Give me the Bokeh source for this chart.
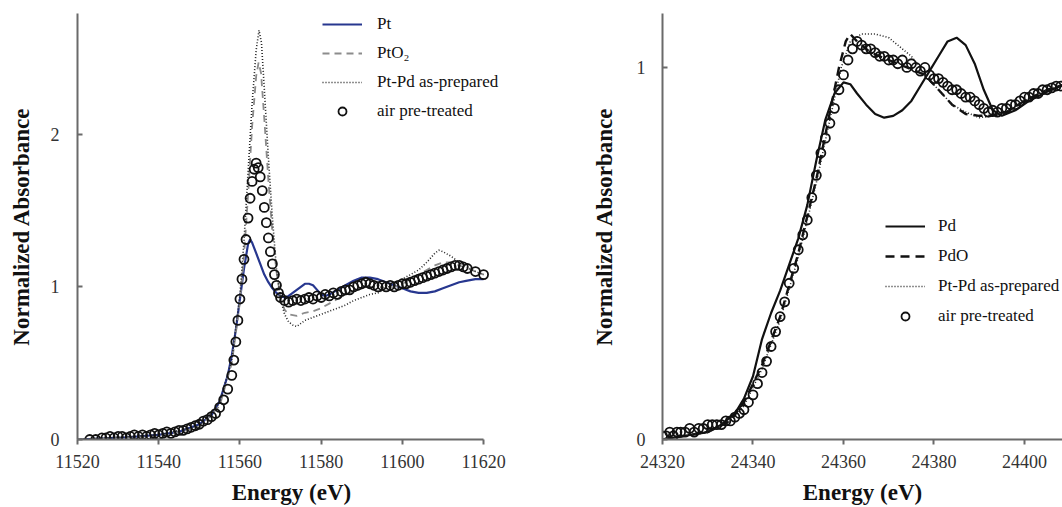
from bokeh.plotting import figure
from bokeh.layouts import row
from bokeh.models import Range1d, FixedTicker, Legend, LegendItem
from bokeh.embed import file_html
from bokeh.resources import INLINE

# ---------------- Pt L3-edge (left) ----------------
pt_x_ticks = [11520, 11540, 11560, 11580, 11600, 11620]
pt_y_ticks = [0, 1, 2]

pt_E = [11520, 11530, 11540, 11545, 11550, 11553, 11555, 11557, 11558, 11559, 11560, 11561,
        11562, 11562.5, 11563, 11564, 11565, 11566, 11567, 11568, 11569, 11570, 11571, 11572,
        11573, 11574, 11575, 11576, 11577, 11578, 11579, 11580, 11581, 11582, 11584, 11586,
        11588, 11590, 11592, 11594, 11596, 11598, 11600, 11602, 11604, 11606, 11608, 11610,
        11612, 11614, 11616, 11618, 11620]
pt_A = [0.00, 0.01, 0.03, 0.05, 0.10, 0.16, 0.25, 0.42, 0.55, 0.72, 0.92, 1.12,
        1.28, 1.31, 1.29, 1.22, 1.15, 1.08, 1.03, 0.99, 0.96, 0.94, 0.93, 0.94,
        0.96, 0.98, 1.00, 1.02, 1.02, 1.01, 0.98, 0.95, 0.94, 0.95, 0.98, 1.01,
        1.04, 1.06, 1.06, 1.05, 1.03, 1.01, 0.99, 0.97, 0.96, 0.96, 0.97, 0.99,
        1.01, 1.03, 1.04, 1.05, 1.05]

pto2_E = [11520, 11540, 11550, 11555, 11558, 11560, 11561, 11562, 11563, 11564, 11564.6,
          11565.2, 11566, 11567, 11568, 11569, 11570, 11571, 11572, 11574, 11576, 11578,
          11580, 11582, 11584, 11586, 11588, 11590, 11592, 11594, 11596, 11598, 11600,
          11602, 11604, 11606, 11608, 11610, 11612, 11614, 11616, 11618, 11620]
pto2_A = [0.00, 0.02, 0.08, 0.22, 0.50, 0.90, 1.20, 1.60, 2.05, 2.38, 2.47,
          2.40, 2.10, 1.70, 1.35, 1.10, 0.93, 0.85, 0.82, 0.81, 0.83, 0.84,
          0.86, 0.89, 0.92, 0.95, 0.97, 0.99, 1.00, 1.00, 0.99, 1.00, 1.02,
          1.05, 1.08, 1.11, 1.14, 1.16, 1.16, 1.14, 1.12, 1.10, 1.08]

ptpd_E = [11520, 11540, 11550, 11555, 11558, 11560, 11561, 11562, 11563, 11564, 11564.7,
          11565.3, 11566, 11567, 11568, 11569, 11570, 11571, 11572, 11573, 11574, 11575,
          11576, 11578, 11580, 11582, 11584, 11586, 11588, 11590, 11592, 11594, 11596,
          11598, 11600, 11602, 11604, 11606, 11608, 11609, 11610, 11612, 11614, 11616,
          11618, 11620]
ptpd_A = [0.00, 0.03, 0.09, 0.24, 0.52, 0.95, 1.30, 1.75, 2.20, 2.55, 2.68,
          2.60, 2.30, 1.85, 1.45, 1.12, 0.92, 0.82, 0.77, 0.75, 0.74, 0.76,
          0.78, 0.80, 0.82, 0.84, 0.86, 0.88, 0.91, 0.93, 0.95, 0.96, 0.99,
          1.02, 1.05, 1.08, 1.11, 1.16, 1.22, 1.24, 1.23, 1.20, 1.16, 1.13,
          1.10, 1.08]

air_pt_E = [11523, 11524.5, 11526, 11527, 11528, 11529, 11530, 11531, 11532, 11533, 11534,
            11535, 11536, 11537, 11538, 11539, 11540, 11541, 11542, 11543, 11544, 11545,
            11546, 11547, 11548, 11549, 11550, 11551, 11552, 11553, 11554, 11555, 11556,
            11557, 11558, 11558.5, 11559, 11559.5, 11560, 11560.5, 11561, 11561.5, 11562,
            11562.5, 11563, 11563.5, 11564, 11564.5, 11565, 11565.5, 11566, 11566.5, 11567,
            11567.5, 11568, 11568.5, 11569, 11569.5, 11570, 11571, 11572, 11573, 11574,
            11575, 11576, 11577, 11578, 11579, 11580, 11581, 11582, 11583, 11584, 11585,
            11586, 11587, 11588, 11589, 11590, 11591, 11592, 11593, 11594, 11595, 11596,
            11597, 11598, 11599, 11600, 11601, 11602, 11603, 11604, 11605, 11606, 11607,
            11608, 11609, 11610, 11611, 11612, 11613, 11614, 11615, 11616, 11618, 11620]
air_pt_A = [0.00, 0.00, 0.01, 0.01, 0.02, 0.01, 0.02, 0.02, 0.01, 0.02, 0.03,
            0.02, 0.03, 0.02, 0.03, 0.04, 0.03, 0.04, 0.05, 0.04, 0.05, 0.06,
            0.06, 0.07, 0.08, 0.09, 0.10, 0.12, 0.13, 0.15, 0.17, 0.21, 0.26,
            0.33, 0.42, 0.52, 0.64, 0.78, 0.92, 1.05, 1.18, 1.31, 1.45,
            1.58, 1.69, 1.77, 1.81, 1.78, 1.72, 1.63, 1.52, 1.42, 1.32,
            1.23, 1.15, 1.08, 1.01, 0.96, 0.93, 0.91, 0.90, 0.91, 0.92,
            0.91, 0.92, 0.93, 0.92, 0.94, 0.93, 0.95, 0.94, 0.96, 0.95, 0.97,
            0.98, 0.98, 1.00, 1.01, 1.02, 1.03, 1.02, 1.01, 1.00, 1.01, 1.00,
            1.01, 1.00, 1.01, 1.02, 1.02, 1.03, 1.04, 1.05, 1.06, 1.07, 1.08,
            1.09, 1.10, 1.11, 1.12, 1.13, 1.14, 1.14, 1.13, 1.12, 1.10, 1.08]

# ---------------- Pd K-edge (right) ----------------
pd_x_ticks = [24320, 24340, 24360, 24380, 24400]
pd_y_ticks = [0, 1]

pd_E = [24320, 24325, 24330, 24333, 24336, 24338, 24340, 24342, 24344, 24346, 24348,
        24350, 24352, 24354, 24356, 24358, 24360, 24361.5, 24363, 24365, 24367, 24369,
        24371, 24373, 24375, 24377, 24379, 24381, 24383, 24385, 24387, 24389, 24391,
        24393, 24395, 24398, 24401, 24405, 24409]
pd_A = [0.00, 0.01, 0.02, 0.04, 0.07, 0.11, 0.17, 0.27, 0.34, 0.40, 0.47,
        0.54, 0.63, 0.75, 0.86, 0.93, 0.96, 0.955, 0.93, 0.90, 0.875, 0.865,
        0.87, 0.885, 0.91, 0.95, 0.99, 1.03, 1.07, 1.08, 1.06, 1.01, 0.94,
        0.885, 0.87, 0.885, 0.91, 0.935, 0.955]

pdo_E = [24320, 24330, 24335, 24338, 24342, 24346, 24350, 24354, 24357, 24359, 24360.5,
         24361.5, 24363, 24366, 24370, 24374, 24378, 24381, 24384, 24387, 24390, 24393,
         24396, 24400, 24405, 24409]
pdo_A = [0.00, 0.02, 0.05, 0.10, 0.20, 0.33, 0.50, 0.70, 0.88, 1.00, 1.07,
         1.09, 1.07, 1.04, 1.02, 1.00, 0.98, 0.94, 0.90, 0.875, 0.87, 0.87,
         0.88, 0.91, 0.94, 0.955]

ptpd2_E = [24320, 24330, 24335, 24338, 24342, 24346, 24350, 24354, 24357, 24359.5, 24361.5,
           24364, 24367, 24370, 24372, 24375, 24378, 24381, 24384, 24387, 24390, 24393,
           24396, 24400, 24405, 24409]
ptpd2_A = [0.00, 0.02, 0.05, 0.09, 0.19, 0.32, 0.49, 0.69, 0.86, 1.00, 1.07,
           1.09, 1.09, 1.08, 1.06, 1.03, 0.98, 0.94, 0.90, 0.88, 0.865, 0.87,
           0.88, 0.91, 0.94, 0.955]

air_pd_E = [24320, 24320.8, 24321.6, 24322.4, 24323.2, 24324, 24325, 24326, 24327, 24328,
            24329, 24330, 24331, 24332, 24333, 24334, 24335, 24336, 24337, 24338, 24339,
            24340, 24341, 24342, 24343, 24344, 24345, 24346, 24347, 24348, 24349, 24350,
            24351, 24352, 24353, 24354, 24355, 24356, 24357, 24358, 24359, 24360, 24361,
            24362, 24363, 24364, 24365, 24366, 24367, 24368, 24369, 24370, 24371, 24372,
            24373, 24374, 24375, 24376, 24377, 24378, 24379, 24380, 24381, 24382, 24383,
            24384, 24385, 24386, 24387, 24388, 24389, 24390, 24391, 24392, 24393, 24394,
            24395, 24396, 24397, 24398, 24399, 24400, 24401, 24402, 24403, 24404, 24405,
            24406, 24407, 24408]
air_pd_A = [0.01, 0.01, 0.02, 0.01, 0.02, 0.02, 0.02, 0.03, 0.02, 0.03,
            0.03, 0.04, 0.04, 0.04, 0.04, 0.05, 0.05, 0.06, 0.07, 0.08, 0.10,
            0.12, 0.15, 0.18, 0.21, 0.25, 0.29, 0.33, 0.37, 0.42, 0.46, 0.51,
            0.55, 0.59, 0.65, 0.71, 0.77, 0.81, 0.85, 0.89, 0.94, 0.98, 1.02,
            1.05, 1.07, 1.06, 1.05, 1.05, 1.04, 1.03, 1.03, 1.02, 1.02, 1.01,
            1.02, 1.00, 1.01, 1.00, 0.99, 1.00, 0.98, 0.97, 0.97, 0.96, 0.95,
            0.94, 0.94, 0.93, 0.92, 0.92, 0.91, 0.90, 0.89, 0.88, 0.885, 0.88,
            0.89, 0.89, 0.90, 0.90, 0.91, 0.92, 0.92, 0.93, 0.93, 0.94, 0.94,
            0.945, 0.95, 0.95]

SERIF = "Liberation Serif"
AXIS_COL = "#6a6a6a"


def style(p, xticks, yticks, xbounds):
    p.outline_line_color = None
    p.xgrid.visible = False
    p.ygrid.visible = False
    p.background_fill_color = "white"
    p.border_fill_color = "white"
    p.xaxis.ticker = FixedTicker(ticks=xticks)
    p.yaxis.ticker = FixedTicker(ticks=yticks)
    if xbounds is not None:
        p.xaxis.bounds = xbounds
    for ax in (p.xaxis[0], p.yaxis[0]):
        ax.axis_line_color = AXIS_COL
        ax.axis_line_width = 2
        ax.major_tick_line_color = AXIS_COL
        ax.major_tick_line_width = 2
        ax.minor_tick_line_color = None
        ax.major_label_text_font = SERIF
        ax.major_label_text_font_size = "18px"
        ax.major_label_text_color = "#333333"
        ax.axis_label_text_font = SERIF
        ax.axis_label_text_font_style = "bold"
        ax.axis_label_text_font_size = "23px"
        ax.axis_label_text_color = "#111111"
    p.xaxis.major_tick_in = 0
    p.xaxis.major_tick_out = 5
    p.yaxis.major_tick_in = 5
    p.yaxis.major_tick_out = 0
    p.xaxis.major_label_standoff = 10
    p.xaxis.axis_label_standoff = 9
    p.xaxis.axis_label = "Energy (eV)"
    p.yaxis.axis_label = "Normalized Absorbance"


def make_legend(items, loc, spacing, standoff):
    lg = Legend(items=items, location=loc)
    lg.border_line_color = None
    lg.background_fill_alpha = 0
    lg.padding = 0
    lg.margin = 0
    lg.spacing = spacing
    lg.glyph_width = 40
    lg.glyph_height = 20
    lg.label_height = 20
    lg.label_standoff = standoff
    lg.label_text_font = SERIF
    lg.label_text_font_size = "17px"
    lg.label_text_color = "#111111"
    return lg


# ---- left figure (frame 77..505 px, axis drawn only to 11620) ----
p1 = figure(width=585, height=507, output_backend="svg", toolbar_location=None,
            x_range=Range1d(11520, 11625.4), y_range=Range1d(0, 2.79),
            min_border_left=77, min_border_right=80, min_border_top=13, min_border_bottom=66)
style(p1, pt_x_ticks, pt_y_ticks, (11520, 11620))
p1.yaxis.major_label_standoff = 18
p1.yaxis.axis_label_standoff = 14

r_pt = p1.line(pt_E, pt_A, line_color="#27378f", line_width=2.2)
r_pto2 = p1.line(pto2_E, pto2_A, line_color="#8c8c8c", line_width=1.8, line_dash="7 5")
r_ptpd = p1.line(ptpd_E, ptpd_A, line_color="#222222", line_width=1.6, line_dash="1 2")
r_air1 = p1.scatter(air_pt_E, air_pt_A, size=9, marker="circle", fill_alpha=0,
                    line_color="#111111", line_width=1.8)
p1.add_layout(make_legend([
    LegendItem(label="Pt", renderers=[r_pt]),
    LegendItem(label="PtO\u2082", renderers=[r_pto2]),
    LegendItem(label="Pt-Pd as-prepared", renderers=[r_ptpd]),
    LegendItem(label="air pre-treated", renderers=[r_air1]),
], (245, 318), 9, 15))

# ---- right figure (frame 662..1062 px) ----
p2 = figure(width=477, height=507, output_backend="svg", toolbar_location=None,
            x_range=Range1d(24320, 24408.4), y_range=Range1d(0, 1.145),
            min_border_left=77, min_border_right=0, min_border_top=13, min_border_bottom=67)
style(p2, pd_x_ticks, pd_y_ticks, None)
p2.yaxis.major_label_standoff = 17
p2.yaxis.axis_label_standoff = 17

r_pd = p2.line(pd_E, pd_A, line_color="#111111", line_width=2.2)
r_pdo = p2.line(pdo_E, pdo_A, line_color="#111111", line_width=2.4, line_dash="9 6")
r_ptpd2 = p2.line(ptpd2_E, ptpd2_A, line_color="#222222", line_width=1.6, line_dash="1 2")
r_air2 = p2.scatter(air_pd_E, air_pd_A, size=9, marker="circle", fill_alpha=0,
                    line_color="#111111", line_width=1.8)
p2.add_layout(make_legend([
    LegendItem(label="Pd", renderers=[r_pd]),
    LegendItem(label="PdO", renderers=[r_pdo]),
    LegendItem(label="Pt-Pd as-prepared", renderers=[r_ptpd2]),
    LegendItem(label="air pre-treated", renderers=[r_air2]),
], (223, 113), 10, 13))

layout = row(p1, p2)
open("out.html", "w").write(file_html(layout, INLINE))
